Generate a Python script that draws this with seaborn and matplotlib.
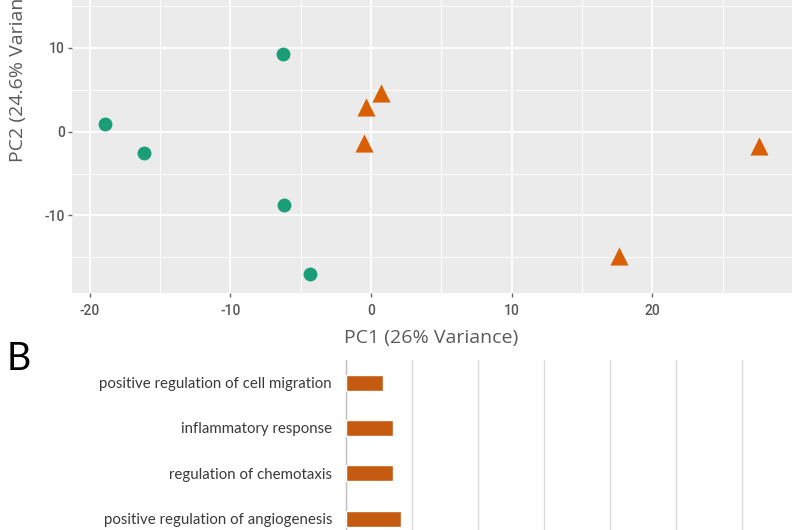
import matplotlib
matplotlib.use("Agg")
import matplotlib.pyplot as plt
import seaborn as sns
import pandas as pd
from matplotlib.ticker import MultipleLocator

# ---- data ----
pc1_green = [-6.25, -18.88, -16.16, -6.18, -4.34]
pc2_green = [9.28, 0.88, -2.58, -8.76, -17.04]
pc1_orange = [0.71, -0.36, -0.53, 27.55, 17.65]
pc2_orange = [4.66, 2.92, -1.31, -1.67, -14.81]

terms = [
    "positive regulation of cell migration",
    "inflammatory response",
    "regulation of chemotaxis",
    "positive regulation of angiogenesis",
]
term_values = [1.13, 1.415, 1.433, 1.658]

x_title = "PC1 (26% Variance)"
y_title = "PC2 (24.6% Variance)"

sns.set_theme(style="white")
plt.rcParams["font.family"] = ["Liberation Sans", "DejaVu Sans"]
plt.rcParams["axes.unicode_minus"] = False

fig = plt.figure(figsize=(8, 5.3), dpi=100)

# ---------------- Panel A: PCA scatter ----------------
ax1 = fig.add_axes([72 / 800, 237 / 530, 720 / 800, 293 / 530])
df_g = pd.DataFrame({"PC1": pc1_green, "PC2": pc2_green})
df_o = pd.DataFrame({"PC1": pc1_orange, "PC2": pc2_orange})
sns.scatterplot(data=df_g, x="PC1", y="PC2", color="#1b9e77", marker="o",
                s=100, linewidth=0, ax=ax1, zorder=3)
sns.scatterplot(data=df_o, x="PC1", y="PC2", color="#d95f02", marker="^",
                s=170, linewidth=0, ax=ax1, zorder=3)
ax1.set_facecolor("#EBEBEB")
ax1.set_xlim(-21.25, 29.92)
ax1.set_ylim(-19.27, 15.73)
ax1.xaxis.set_major_locator(MultipleLocator(10))
ax1.xaxis.set_minor_locator(MultipleLocator(5))
ax1.yaxis.set_major_locator(MultipleLocator(10))
ax1.yaxis.set_minor_locator(MultipleLocator(5))
ax1.grid(which="major", color="white", lw=1.3)
ax1.grid(which="minor", color="white", lw=0.7)
ax1.set_axisbelow(True)
for s in ax1.spines.values():
    s.set_visible(False)
ax1.tick_params(which="major", bottom=True, left=True, length=3.2, width=1,
                color="#666666", labelsize=10, labelcolor="#585858")
ax1.tick_params(axis="x", which="major", pad=5)
ax1.tick_params(axis="y", which="major", pad=2)
ax1.tick_params(which="minor", length=0)
for lbl in ax1.get_xticklabels() + ax1.get_yticklabels():
    lbl.set_family(["Roboto", "DejaVu Sans"])
    lbl.set_fontweight("medium")
ax1.set_xlabel("")
ax1.set_ylabel("")

fig.text(431 / 800, 1 - 338 / 530, x_title, ha="center", va="center",
         fontsize=14, color="#5a5a5a", family=["Open Sans", "DejaVu Sans"])
fig.text(18 / 800, 1 - 162 / 530, y_title, ha="center", va="bottom",
         rotation=90, fontsize=14, color="#5a5a5a",
         family=["Open Sans", "DejaVu Sans"])

# ---------------- Panel B: bar chart ----------------
fig.text(7 / 800, 1 - 370 / 530, "B", ha="left", va="baseline", fontsize=27,
         color="black", family=["Lato", "DejaVu Sans"])

ax2 = fig.add_axes([346 / 800, 0, 454 / 800, 170 / 530])
df_b = pd.DataFrame({"term": terms, "value": term_values})
sns.barplot(data=df_b, x="value", y="term", color="#c55a11", width=0.35,
            orient="h", ax=ax2, saturation=1, zorder=3)
ax2.set_xlim(0, 13.76)
ax2.set_ylim(3.25, -0.5)
ax2.xaxis.set_major_locator(MultipleLocator(2))
ax2.grid(axis="x", color="#d9d9d9", lw=1)
ax2.grid(axis="y", visible=False)
ax2.set_axisbelow(True)
for k, s in ax2.spines.items():
    s.set_visible(k == "left")
ax2.spines["left"].set_color("#bfbfbf")
ax2.spines["left"].set_linewidth(1)
ax2.tick_params(axis="x", bottom=False, labelbottom=False)
ax2.tick_params(axis="y", left=False, length=0, pad=10, labelsize=10.8,
                labelcolor="#3a3a3a")
for lbl in ax2.get_yticklabels():
    lbl.set_family(["Lato", "DejaVu Sans"])
ax2.set_xlabel("")
ax2.set_ylabel("")

fig.savefig("out.png", dpi=100)
